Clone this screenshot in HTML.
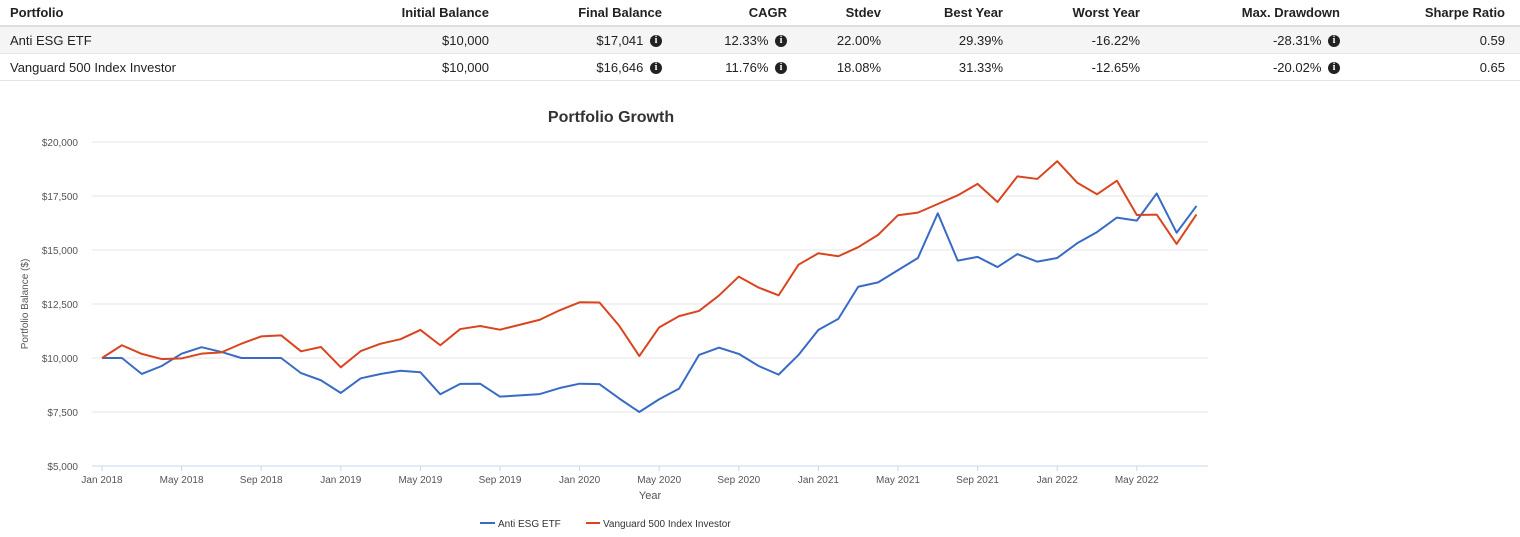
<!DOCTYPE html>
<html><head><meta charset="utf-8"><style>
body{margin:0;width:1520px;height:537px;background:#fff;font-family:"Liberation Sans",sans-serif;color:#222;overflow:hidden;position:relative}
table{position:absolute;left:0;top:0;width:1520px;border-collapse:collapse;font-size:13px;table-layout:fixed}
th{font-weight:bold;height:25px;border-bottom:2px solid #ddd;padding:0;text-align:right}
td{height:26px;padding:0;text-align:right;border-bottom:1px solid #e4e4e4}
th:first-child,td:first-child{text-align:left;padding-left:10px}
th:last-child,td:last-child{padding-right:15px}
tr.alt td{background:#f5f5f5}
.i{display:inline-block;width:12px;height:12px;border-radius:50%;background:#222;color:#fff;font-size:10px;font-weight:bold;line-height:12px;text-align:center;font-family:"Liberation Serif",serif;vertical-align:middle;margin-left:3px;position:relative;top:0}
svg{position:absolute;left:0;top:0}
</style></head><body>
<table>
<colgroup><col style="width:300px"><col style="width:189px"><col style="width:173px"><col style="width:125px"><col style="width:94px"><col style="width:122px"><col style="width:137px"><col style="width:200px"><col style="width:180px"></colgroup>
<tr><th>Portfolio</th><th>Initial Balance</th><th>Final Balance</th><th>CAGR</th><th>Stdev</th><th>Best Year</th><th>Worst Year</th><th>Max. Drawdown</th><th>Sharpe Ratio</th></tr>
<tr class="alt"><td>Anti ESG ETF</td><td>$10,000</td><td>$17,041 <span class="i">i</span></td><td>12.33% <span class="i">i</span></td><td>22.00%</td><td>29.39%</td><td>-16.22%</td><td>-28.31% <span class="i">i</span></td><td>0.59</td></tr>
<tr><td>Vanguard 500 Index Investor</td><td>$10,000</td><td>$16,646 <span class="i">i</span></td><td>11.76% <span class="i">i</span></td><td>18.08%</td><td>31.33%</td><td>-12.65%</td><td>-20.02% <span class="i">i</span></td><td>0.65</td></tr>
</table>
<svg id="chart" width="1520" height="537"></svg>
<script>
const xTickLabels=["Jan 2018","May 2018","Sep 2018","Jan 2019","May 2019","Sep 2019","Jan 2020","May 2020","Sep 2020","Jan 2021","May 2021","Sep 2021","Jan 2022","May 2022"];
const yTicks=[5000,7500,10000,12500,15000,17500,20000];
const antiEsg=[10000,10000,9260,9630,10200,10500,10280,10000,10000,10000,9300,8970,8380,9060,9260,9410,9340,8320,8800,8810,8210,8270,8330,8610,8810,8790,8120,7500,8090,8580,10140,10480,10190,9630,9230,10140,11300,11810,13300,13500,14070,14630,16700,14510,14680,14210,14810,14460,14630,15310,15830,16500,16360,17620,15800,17041];
const vanguard=[10000,10590,10190,9950,9980,10200,10260,10660,11000,11050,10310,10510,9570,10320,10660,10870,11300,10590,11340,11480,11310,11540,11770,12210,12580,12570,11480,10090,11420,11940,12180,12890,13770,13260,12900,14320,14850,14710,15130,15700,16610,16730,17130,17530,18060,17220,18410,18290,19110,18120,17580,18210,16620,16640,15280,16646];
const svg=document.getElementById('chart');const NS='http://www.w3.org/2000/svg';
const X0=102,DX=19.9,Y0=466,Y1=142,VMIN=5000,VMAX=20000;
const xs=i=>X0+i*DX;const ys=v=>Y0-(v-VMIN)/(VMAX-VMIN)*(Y0-Y1);
function mk(t,a,txt){const e=document.createElementNS(NS,t);for(const k in a)e.setAttribute(k,a[k]);if(txt!=null)e.textContent=txt;svg.appendChild(e);return e;}
let e;
e=mk('text',{x:611,y:122,'text-anchor':'middle','font-size':16,'font-weight':'bold',fill:'#333'},'Portfolio Growth');


yTicks.forEach(v=>{
 e=mk('line',{x1:92,x2:1208,y1:ys(v),y2:ys(v),stroke:v===VMIN?'#ccd6eb':'#e6e6e6','stroke-width':1});
 
 
 e=mk('text',{x:78,y:ys(v)+4,'text-anchor':'end','font-size':10,fill:'#555'},'$'+v.toLocaleString('en-US'));
 
 
});
xTickLabels.forEach((l,k)=>{
 const x=xs(k*4);
 e=mk('line',{x1:x,x2:x,y1:466,y2:471,stroke:'#ccd6eb'});
 
 
 e=mk('text',{x:x,y:483,'text-anchor':'middle','font-size':10,fill:'#555'},l);
 
 
});
e=mk('text',{x:650,y:499,'text-anchor':'middle','font-size':11,fill:'#555'},'Year');


e=mk('text',{x:0,y:0,transform:'translate(28,304) rotate(-90)','text-anchor':'middle','font-size':10,fill:'#555'},'Portfolio Balance ($)');


function line(data,color,name){
 const e=mk('polyline',{points:data.map((v,i)=>xs(i)+','+ys(v)).join(' '),fill:'none',stroke:color,'stroke-width':2,'stroke-linejoin':'round'});
 
 
}
line(antiEsg,'#3a6bc4','anti-esg-line');
line(vanguard,'#d9451f','vanguard-line');
e=mk('line',{x1:480,x2:495,y1:523,y2:523,stroke:'#3a6bc4','stroke-width':2});


e=mk('text',{x:498,y:527,'font-size':10,fill:'#333'},'Anti ESG ETF');


e=mk('line',{x1:586,x2:600,y1:523,y2:523,stroke:'#d9451f','stroke-width':2});


e=mk('text',{x:603,y:527,'font-size':10,fill:'#333'},'Vanguard 500 Index Investor');


</script>
</body></html>
